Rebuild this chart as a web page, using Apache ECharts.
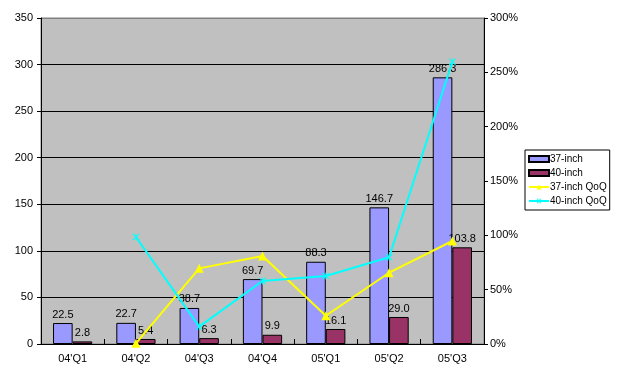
<!DOCTYPE html>
<html>
<head>
<meta charset="utf-8">
<script src="https://cdn.jsdelivr.net/npm/echarts@6/dist/echarts.min.js"></script>
<style>html,body{margin:0;padding:0;background:#fff;}#c{width:633px;height:368px;}</style>
</head>
<body>
<div id="c"></div>
<script>
const categories = ["04'Q1", "04'Q2", "04'Q3", "04'Q4", "05'Q1", "05'Q2", "05'Q3"];
const inch37 = [22.5, 22.7, 38.7, 69.7, 88.3, 146.7, 286.3];
const inch40 = [2.8, 5.4, 6.3, 9.9, 16.1, 29.0, 103.8];
const qoq37 = [null, 0.6, 69.6, 81, 26, 65.6, 94.8];
const qoq40 = [null, 98.5, 16, 58, 62.6, 79.8, 259.8];
const leftTicks = [0, 350, 50];
const rightTicks = [0, 300, 50];

const font = 'Liberation Sans, Arial, sans-serif';
const chart = echarts.init(document.getElementById('c'));
const lblStyle = {show: true, position: 'top', color: '#000', fontFamily: font, fontSize: 11, distance: 3,
  formatter: p => p.value.toFixed(1)};
const starPath = 'path://M0,1L1,0L5,4L9,0L10,1L6,5L10,9L9,10L5,6L1,10L0,9L4,5Z M4.4,0L5.6,0L5.6,10L4.4,10Z';
chart.setOption({
  animation: false,
  textStyle: {fontFamily: font},
  grid: {left: 41, right: 149, top: 18, bottom: 24, show: true, backgroundColor: '#C0C0C0', borderColor: '#808080', borderWidth: 1},
  legend: {
    orient: 'vertical', left: 525, top: 150,
    backgroundColor: '#fff', borderColor: '#000', borderWidth: 1,
    padding: [4, 3, 4, 3], itemGap: 4, itemWidth: 20, itemHeight: 6,
    textStyle: {fontFamily: font, fontSize: 10, color: '#000', padding: [0, 0, 0, -4]},
    data: [
      {name: '37-inch', icon: 'rect'},
      {name: '40-inch', icon: 'rect'},
      {name: '37-inch QoQ'},
      {name: '40-inch QoQ'}
    ]
  },
  xAxis: {
    type: 'category', data: categories,
    axisLine: {lineStyle: {color: '#000', width: 1}},
    axisTick: {show: true, inside: true, length: 5, lineStyle: {color: '#000'}},
    axisLabel: {color: '#000', fontSize: 11, fontFamily: font, margin: 9}
  },
  yAxis: [{
    type: 'value', min: leftTicks[0], max: leftTicks[1], interval: leftTicks[2],
    axisLine: {show: true, lineStyle: {color: '#000'}},
    axisTick: {show: true, length: 4, lineStyle: {color: '#000'}},
    axisLabel: {color: '#000', fontSize: 11, fontFamily: font, margin: 8},
    splitLine: {show: true, lineStyle: {color: ['#000', '#000', '#000', '#000', '#000', '#000', '#000', '#808080'], width: 1}}
  }, {
    type: 'value', min: rightTicks[0], max: rightTicks[1], interval: rightTicks[2],
    axisLine: {show: true, lineStyle: {color: '#000'}},
    axisTick: {show: true, length: 4, lineStyle: {color: '#000'}},
    axisLabel: {color: '#000', fontSize: 11, fontFamily: font, margin: 6, formatter: '{value}%'},
    splitLine: {show: false}
  }],
  series: [
    {name: '37-inch', type: 'bar', data: inch37, barGap: '0%', barCategoryGap: '38%',
     itemStyle: {color: '#9999FF', borderColor: '#000', borderWidth: 1}, label: lblStyle},
    {name: '40-inch', type: 'bar', data: inch40,
     itemStyle: {color: '#993366', borderColor: '#000', borderWidth: 1}, label: lblStyle},
    {name: '37-inch QoQ', type: 'line', yAxisIndex: 1, data: qoq37,
     symbol: 'triangle', symbolSize: 9, showSymbol: true,
     lineStyle: {color: '#FFFF00', width: 2}, itemStyle: {color: '#FFFF00'}},
    {name: '40-inch QoQ', type: 'line', yAxisIndex: 1, data: qoq40,
     symbol: starPath, symbolSize: 7, showSymbol: true,
     lineStyle: {color: '#00FFFF', width: 2}, itemStyle: {color: '#00FFFF', borderWidth: 0}}
  ]
});
</script>
</body>
</html>
